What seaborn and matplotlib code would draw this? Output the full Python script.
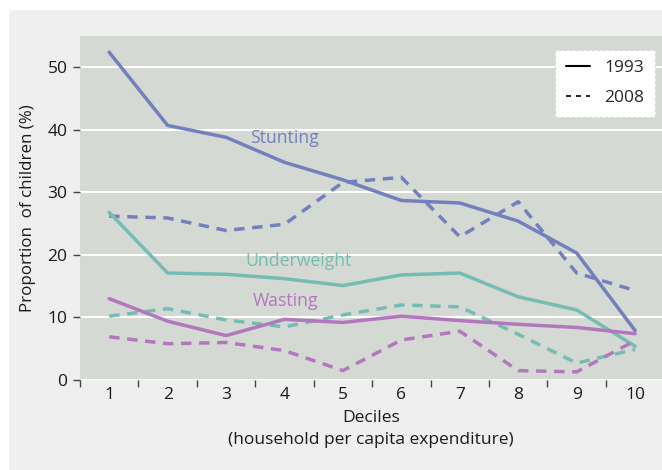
import numpy as np
import pandas as pd
import matplotlib
matplotlib.use("Agg")
import matplotlib.pyplot as plt
from matplotlib.lines import Line2D
from matplotlib.patches import Rectangle
import seaborn as sns

deciles = [1, 2, 3, 4, 5, 6, 7, 8, 9, 10]
stunting_1993 = [52.4, 40.7, 38.8, 34.8, 32.0, 28.7, 28.3, 25.4, 20.3, 7.9]
stunting_2008 = [26.2, 25.9, 23.9, 24.9, 31.6, 32.4, 22.9, 28.5, 17.1, 14.3]
underweight_1993 = [26.8, 17.1, 16.9, 16.2, 15.1, 16.8, 17.1, 13.3, 11.2, 5.4]
underweight_2008 = [10.2, 11.4, 9.6, 8.5, 10.4, 12.0, 11.7, 7.3, 2.7, 4.9]
wasting_1993 = [13.0, 9.4, 7.1, 9.7, 9.2, 10.2, 9.5, 8.9, 8.4, 7.4]
wasting_2008 = [6.9, 5.8, 6.0, 4.7, 1.5, 6.4, 7.8, 1.5, 1.3, 6.3]

indicators = ["Stunting", "Underweight", "Wasting"]
years = ["1993", "2008"]
colors = {"Stunting": "#7380bd", "Underweight": "#74bdb3", "Wasting": "#b277bd"}

series = {
    ("Stunting", "1993"): stunting_1993,
    ("Stunting", "2008"): stunting_2008,
    ("Underweight", "1993"): underweight_1993,
    ("Underweight", "2008"): underweight_2008,
    ("Wasting", "1993"): wasting_1993,
    ("Wasting", "2008"): wasting_2008,
}
rows = []
for (ind, yr), vals in series.items():
    for d, v in zip(deciles, vals):
        rows.append({"decile": d, "value": v, "indicator": ind, "year": yr})
df = pd.DataFrame(rows)

sns.set_theme(style="white")
plt.rcParams['font.family'] = ['Open Sans', 'DejaVu Sans']

fig = plt.figure(figsize=(6.62, 4.70), dpi=100, facecolor="white")
fig.patches.append(Rectangle((9/662, 0), 1, 1 - 10/470, transform=fig.transFigure,
                             facecolor="#efefef", edgecolor="none", zorder=-10))
ax = fig.add_axes([80/662, 1 - 380/470, 1 - 80/662, (380 - 36)/470])
ax.set_facecolor("#d5d9d3")

sns.lineplot(data=df, x="decile", y="value", hue="indicator", style="year",
             palette=colors, dashes={"1993": "", "2008": (3, 2.2)},
             linewidth=2.5, ax=ax, legend=False, sort=False)

ax.set_xlim(0.5, 10.46)
ax.set_ylim(0, 55)
ax.set_yticks([0, 10, 20, 30, 40, 50])
ax.set_xticks(deciles)
ax.set_xticks(np.arange(0.5, 10.0, 1.0), minor=True)
ax.grid(axis="y", color="white", linewidth=1.5, zorder=0)
ax.set_axisbelow(True)
for s in ax.spines.values():
    s.set_visible(False)
ax.tick_params(axis="y", which="major", left=True, length=5, width=1, color="#444444",
               labelsize=12.5, pad=4, labelcolor="#1a1a1a")
ax.tick_params(axis="x", which="major", bottom=False, length=0, labelsize=12.5, pad=5,
               labelcolor="#1a1a1a")
ax.tick_params(axis="x", which="minor", bottom=True, length=5, width=1, color="#444444")

ax.set_ylabel("Proportion  of children (%)", fontsize=12.2, color="#1a1a1a", labelpad=8)
ax.set_xlabel("Deciles\n(household per capita expenditure)", fontsize=12.5,
              color="#1a1a1a", labelpad=5, linespacing=1.55)

ax.text(3.41, 38.7, "Stunting", color=colors["Stunting"], fontsize=12.7, va="center")
ax.text(3.33, 19.05, "Underweight", color=colors["Underweight"], fontsize=12.7, va="center")
ax.text(3.46, 12.65, "Wasting", color=colors["Wasting"], fontsize=12.7, va="center")

handles = [Line2D([], [], color="black", lw=1.5, ls="-"),
           Line2D([], [], color="black", lw=1.2, ls=(0, (3, 3)))]
leg = ax.legend(handles, years, loc="upper right", bbox_to_anchor=(0.988, 0.96),
                fontsize=12.5, frameon=True, fancybox=False, handlelength=1.4,
                handletextpad=0.85, borderpad=0.6, labelspacing=0.8, borderaxespad=0)
frame = leg.get_frame()
frame.set_facecolor("white")
frame.set_edgecolor("#d8d8d8")
frame.set_linestyle((0, (2, 2)))
frame.set_linewidth(1.0)
frame.set_alpha(1)

fig.savefig("out.png", dpi=100, facecolor="white")
